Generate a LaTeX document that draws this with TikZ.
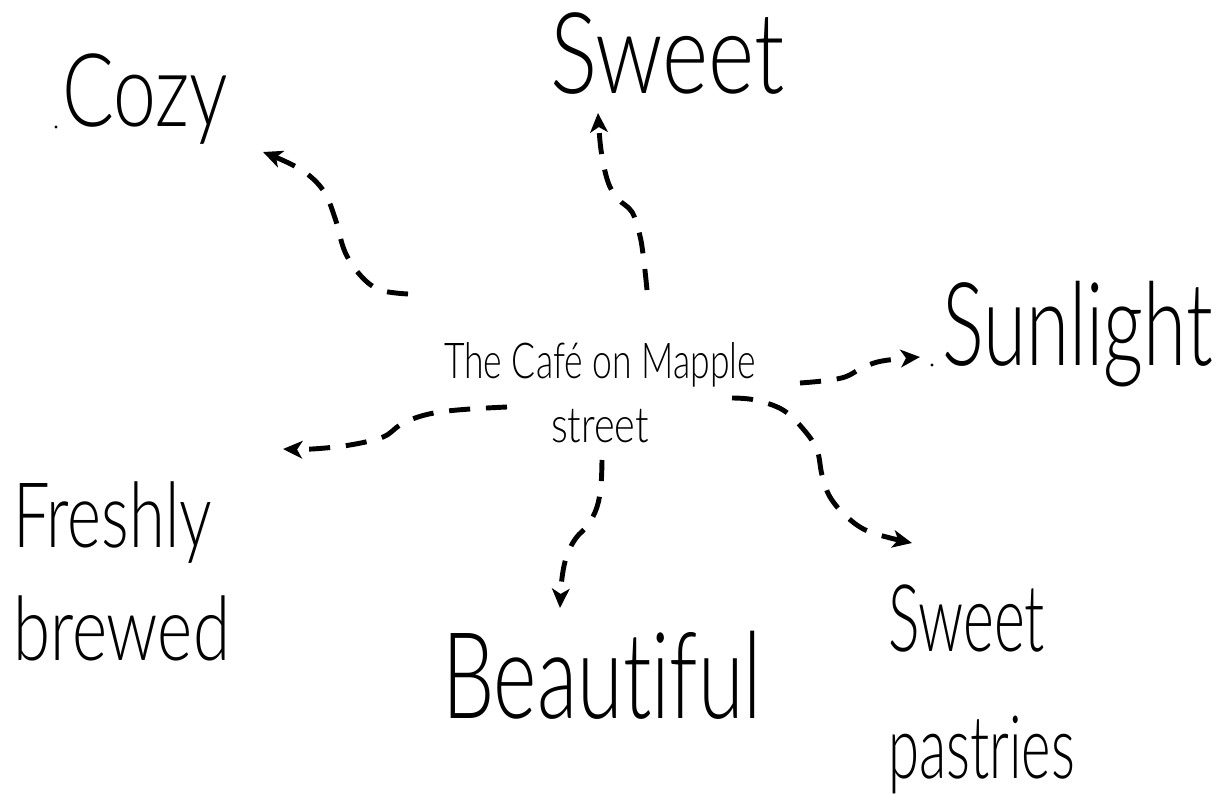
\documentclass[tikz,border=0pt]{standalone}
\usepackage{fontspec}
\setmainfont{Lato Light}[Ligatures=NoCommon]
\usetikzlibrary{arrows.meta}
\newsavebox\fitbox
\newsavebox\capbox
% #1 width (px), #2 cap height (px), #3 text
\newcommand\fitt[3]{\sbox\fitbox{#3}\sbox\capbox{H}%
  \pgfmathsetmacro\fitxs{#1*0.569055/\the\wd\fitbox}%
  \pgfmathsetmacro\fitys{#2*0.569055/\the\ht\capbox}%
  \scalebox{\fitxs}[\fitys]{\usebox\fitbox}}
\tikzset{
  word/.style={inner sep=0pt, outer sep=0pt, anchor=base west},
  arr/.style={line width=2.8pt, dash pattern=on 12pt off 9pt,
    -{Stealth[length=11pt,width=10pt,inset=3pt]}},
  speck/.style={fill=black}
}
\begin{document}
\begin{tikzpicture}[x=0.02cm,y=-0.02cm]
\fill[white] (0,0) rectangle (1221,794);
\useasboundingbox (0,0) rectangle (1221,794);
% words (multi-line nodes: base anchor = baseline of last line)
\node[word] (cozy) at (62,127) {\fitt{166}{72}{Cozy}};
\node[word] (sweet) at (550,93) {\fitt{235}{80}{Sweet}};
\node[word] (sunlight) at (942,365) {\fitt{271}{82}{Sunlight}};
\node[word, align=left, font=\fontsize{40}{64.3}\selectfont] (fresh) at (13,660)
  {\fitt{199}{64}{Freshly}\\\fitt{217}{63}{brewed}};
\node[word] (beautiful) at (442,718) {\fitt{320}{85}{Beautiful}};
\node[word, align=left, font=\fontsize{40}{71.8}\selectfont] (pastries) at (888,778)
  {\fitt{157}{66}{Sweet}\\\fitt{187}{62}{pastries}};
\node[word, anchor=base, align=center, font=\fontsize{20}{36.4}\selectfont] (cafe) at (600,442)
  {\fitt{312}{35}{The Café on Mapple}\\\fitt{98}{35}{street}};
% stray specks
\fill[speck] (56,127) circle (1.6);
\fill[speck] (932,365) circle (1.6);
% connector ends
\coordinate (s1) at (408,294); \coordinate (e1) at (263,152);
\coordinate (s2) at (647,290); \coordinate (e2) at (598,113);
\coordinate (s3) at (800,383); \coordinate (e3) at (920,357);
\coordinate (s4) at (507,407); \coordinate (e4) at (283,449);
\coordinate (s5) at (602,460); \coordinate (e5) at (560,608);
\coordinate (s6) at (732,398); \coordinate (e6) at (912,543);
% connectors
\draw[arr] plot[smooth, tension=0.6] coordinates {(s1) (380,290) (361,276) (345,252) (335,218) (323,190) (300,169) (e1)};
\draw[arr] plot[smooth, tension=0.6] coordinates {(s2) (644,262) (640,236) (632,212) (618,199) (608,182) (601,150) (e2)};
\draw[arr] plot[smooth, tension=0.6] coordinates {(s3) (822,381) (845,377) (862,368) (882,361) (e3)};
\draw[arr] plot[smooth, tension=0.6] coordinates {(s4) (470,409) (440,412) (418,417) (400,425) (383,437) (350,445) (312,449) (e4)};
\draw[arr] plot[smooth, tension=0.6] coordinates {(s5) (601,485) (597,507) (588,525) (576,538) (567,555) (562,578) (e5)};
\draw[arr] plot[smooth, tension=0.6] coordinates {(s6) (755,400) (783,410) (804,430) (817,450) (822,475) (830,497) (847,517) (870,532) (e6)};
\end{tikzpicture}
\end{document}
